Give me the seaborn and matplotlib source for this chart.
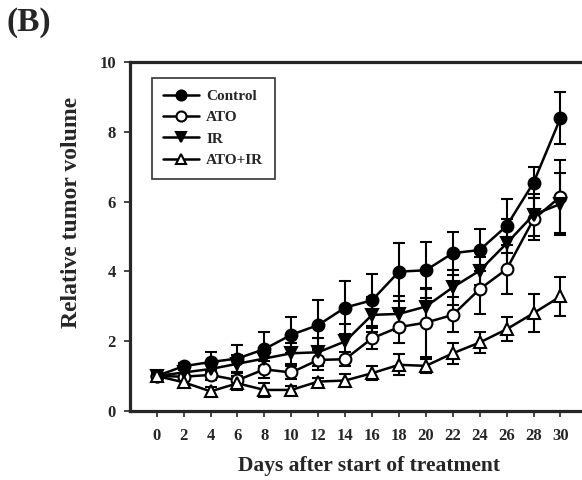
import pandas as pd
import matplotlib
matplotlib.use("Agg")
import matplotlib.pyplot as plt
import seaborn as sns

days = [0, 2, 4, 6, 8, 10, 12, 14, 16, 18, 20, 22, 24, 26, 28, 30]

control = [1.0, 1.28, 1.4, 1.5, 1.77, 2.18, 2.46, 2.96, 3.17, 3.99, 4.03, 4.52, 4.61, 5.3, 6.54, 8.39]
control_err = [0.08, 0.1, 0.3, 0.4, 0.48, 0.52, 0.72, 0.76, 0.75, 0.83, 0.8, 0.62, 0.6, 0.77, 0.45, 0.75]

ato = [1.0, 0.98, 1.03, 0.88, 1.19, 1.1, 1.46, 1.48, 2.08, 2.4, 2.53, 2.75, 3.49, 4.06, 5.49, 6.14]
ato_err = [0.08, 0.1, 0.15, 0.2, 0.25, 0.2, 0.3, 0.2, 0.3, 0.45, 1.0, 0.5, 0.7, 0.7, 0.6, 1.05]

ir = [1.0, 1.1, 1.2, 1.35, 1.5, 1.65, 1.68, 1.99, 2.75, 2.78, 2.99, 3.54, 4.02, 4.8, 5.62, 5.93]
ir_err = [0.08, 0.1, 0.2, 0.25, 0.3, 0.3, 0.4, 0.5, 0.5, 0.5, 0.5, 0.5, 0.4, 0.7, 0.6, 0.9]

ato_ir = [1.0, 0.82, 0.56, 0.79, 0.6, 0.6, 0.84, 0.87, 1.08, 1.32, 1.29, 1.65, 1.96, 2.34, 2.8, 3.28]
ato_ir_err = [0.08, 0.1, 0.12, 0.2, 0.2, 0.12, 0.1, 0.2, 0.2, 0.3, 0.2, 0.3, 0.3, 0.35, 0.55, 0.55]

groups = ["Control", "ATO", "IR", "ATO+IR"]
means = [control, ato, ir, ato_ir]
errs = [control_err, ato_err, ir_err, ato_ir_err]
markers = ["o", "o", "v", "^"]
faces = ["black", "white", "black", "white"]

sns.set_style("ticks")
plt.rcParams["font.family"] = ["Liberation Serif", "DejaVu Serif"]
plt.rcParams["font.weight"] = "bold"

fig = plt.figure(figsize=(5.82, 4.8), dpi=100)
ax = fig.add_axes([0.223, 0.144, 0.777, 0.727])

for g, m, e, mk, fc in zip(groups, means, errs, markers, faces):
    df = pd.DataFrame({"day": days, "vol": m})
    ax.errorbar(days, m, yerr=e, fmt="none", ecolor="black", elinewidth=1.5,
                capsize=4.5, capthick=1.5, zorder=2)
    sns.lineplot(data=df, x="day", y="vol", ax=ax, color="black", linewidth=1.8,
                 marker=mk, markersize=8.5 if mk == "o" else 9,
                 markerfacecolor=fc, markeredgecolor="black", markeredgewidth=1.5,
                 label=g, zorder=3)

ax.set_xlim(-2, 31.6)
ax.set_ylim(0, 10)
ax.set_xticks(days)
ax.set_yticks([0, 2, 4, 6, 8, 10])
ax.tick_params(axis="both", labelsize=12, width=1.2, length=4, direction="out")
ax.tick_params(axis="x", pad=8)
ax.tick_params(axis="y", pad=6)
for lbl in ax.get_xticklabels() + ax.get_yticklabels():
    lbl.set_fontweight("bold")
for s in ["left", "bottom", "top"]:
    ax.spines[s].set_linewidth(2.3)
ax.spines["right"].set_visible(False)

ax.set_xlabel("Days after start of treatment", fontsize=15.5, fontweight="bold")
ax.set_ylabel("Relative tumor volume", fontsize=17, fontweight="bold")
ax.xaxis.set_label_coords(0.53, -0.13)
ax.yaxis.set_label_coords(-0.105, 0.57)

leg = ax.legend(loc="upper left", bbox_to_anchor=(0.049, 0.954), borderaxespad=0,
                frameon=True, fancybox=False, edgecolor="black", fontsize=11,
                handlelength=2.3, labelspacing=0.5, borderpad=0.75,
                handletextpad=0.5, markerscale=0.85)
leg.get_frame().set_linewidth(1.2)
for t in leg.get_texts():
    t.set_fontweight("bold")

fig.text(0.012, 0.985, "(B)", fontsize=24, fontweight="bold", va="top", ha="left")

fig.savefig("out.png", dpi=100)
